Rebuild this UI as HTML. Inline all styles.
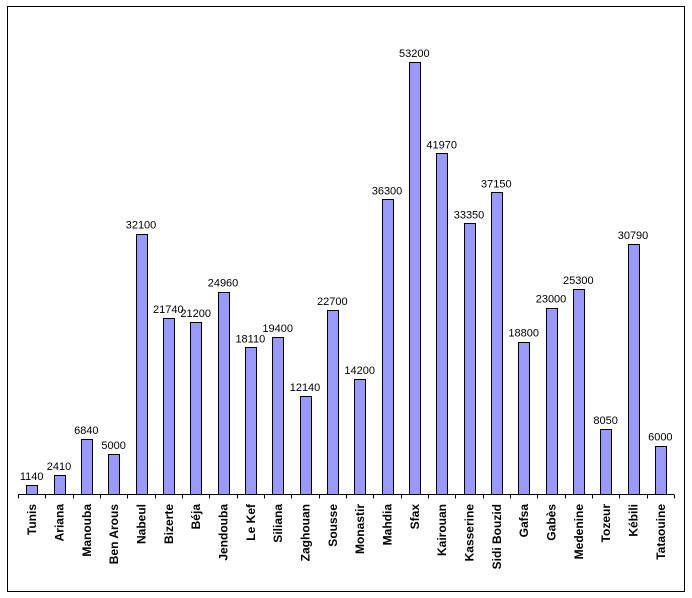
<!DOCTYPE html>
<html><head><meta charset="utf-8"><style>
body{margin:0;background:#fff;}
svg{display:block;font-family:"Liberation Sans",Arial,sans-serif;}
</style></head><body>
<svg id="chart" width="692" height="598" xmlns="http://www.w3.org/2000/svg">
<rect x="7.5" y="6.5" width="677" height="585" fill="#fff" stroke="#000" stroke-width="1"/>
<g id="bars"></g>
<line x1="18" y1="494.5" x2="674" y2="494.5" stroke="#000"/>
</svg>
<script>
const categories=["Tunis","Ariana","Manouba","Ben Arous","Nabeul","Bizerte","Béja","Jendouba","Le Kef","Siliana","Zaghouan","Sousse","Monastir","Mahdia","Sfax","Kairouan","Kasserine","Sidi Bouzid","Gafsa","Gabès","Medenine","Tozeur","Kébili","Tataouine"];
const values=[1140,2410,6840,5000,32100,21740,21200,24960,18110,19400,12140,22700,14200,36300,53200,41970,33350,37150,18800,23000,25300,8050,30790,6000];
const labels=["1140","2410","6840","5000","32100","21740","21200","24960","18110","19400","12140","22700","14200","36300","53200","41970","33350","37150","18800","23000","25300","8050","30790","6000"];
const NS="http://www.w3.org/2000/svg";
const x0=18,x1=674,y0=494.5,k=432.5/53200;
const step=(x1-x0)/categories.length;
const xc=i=>x0+step*(i+0.5);
const y=v=>y0-v*k;
const g=document.getElementById('bars');
for(let i=0;i<=categories.length;i++){
  const t=document.createElementNS(NS,'line');
  
  
  const xx=Math.round(x0+step*i)+0.5;
  t.setAttribute('x1',xx);t.setAttribute('x2',xx);t.setAttribute('y1',y0);t.setAttribute('y2',y0+4);
  t.setAttribute('stroke','#000');g.appendChild(t);
}
categories.forEach((c,i)=>{
  const cx=xc(i);
  const r=document.createElementNS(NS,'rect');
  
  
  const top=y(values[i]);
  r.setAttribute('x',Math.round(cx-5.5)+0.5);r.setAttribute('y',Math.round(top)+0.5);
  r.setAttribute('width',11);r.setAttribute('height',Math.max(0,y0-Math.round(top)-0.5));
  r.setAttribute('fill','#9999ff');r.setAttribute('stroke','#000');
  g.appendChild(r);
  const v=document.createElementNS(NS,'text');
  
  
  v.setAttribute('x',cx);v.setAttribute('y',top-5);v.setAttribute('text-anchor','middle');
  v.setAttribute('font-size','11');v.textContent=labels[i];g.appendChild(v);
  const l=document.createElementNS(NS,'text');
  
  
  l.setAttribute('transform','translate('+(cx+4.5)+',504) rotate(-90)');
  l.setAttribute('text-anchor','end');l.setAttribute('font-size','12');l.setAttribute('font-weight','bold');
  l.textContent=c;g.appendChild(l);
});
</script>
</body></html>
